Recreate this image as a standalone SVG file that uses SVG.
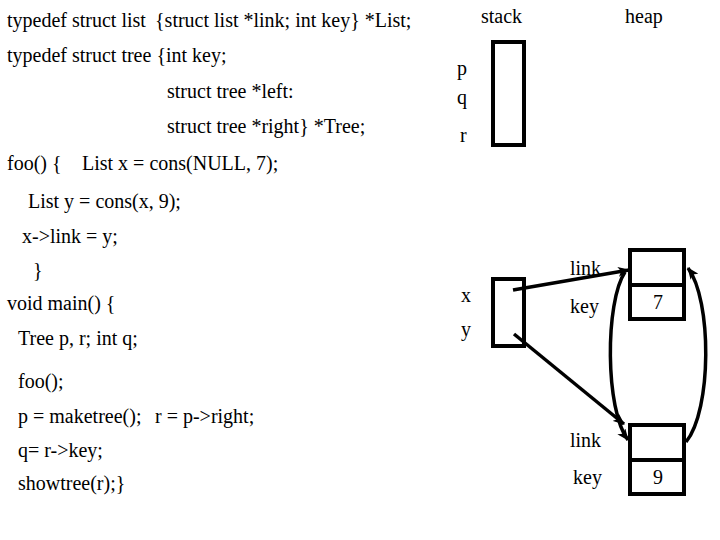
<svg xmlns="http://www.w3.org/2000/svg" width="720" height="540" viewBox="0 0 720 540">
<defs>
<style>
text{font-family:"Liberation Serif","Times New Roman",serif;font-size:20px;fill:#000}
.box{fill:none;stroke:#000;stroke-width:4}
.con{fill:none;stroke:#000;stroke-width:3.5}
</style>
<marker id="ah" viewBox="0 0 12 10" refX="11" refY="5" markerWidth="12" markerHeight="10" markerUnits="userSpaceOnUse" orient="auto">
<path d="M0,0 L12,5 L0,10 L3,5 Z" fill="#000"/>
</marker>
</defs>
<rect width="720" height="540" fill="#fff"/>
<g id="code">
<text x="7" y="27">typedef struct list<tspan x="155">{struct list *link; int key} *List;</tspan></text>
<text x="7" y="62">typedef struct tree {int key;</text>
<text x="167" y="98">struct tree *left:</text>
<text x="167" y="133">struct tree *right} *Tree;</text>
<text x="7" y="170">foo() {<tspan x="82">List x = cons(NULL, 7);</tspan></text>
<text x="28" y="208">List y = cons(x, 9);</text>
<text x="22" y="243">x-&gt;link = y;</text>
<text x="33" y="277">}</text>
<text x="7" y="310">void main() {</text>
<text x="18" y="345">Tree p, r; int q;</text>
<text x="18" y="388">foo();</text>
<text x="18" y="423">p = maketree();<tspan x="155">r = p-&gt;right;</tspan></text>
<text x="18" y="457">q= r-&gt;key;</text>
<text x="18" y="490">showtree(r);}</text>
</g>
<g id="titles">
<text x="481" y="23">stack</text>
<text x="625" y="23">heap</text>
</g>
<g id="stack-pqr">
<rect class="box" x="493" y="42" width="31" height="103"/>
<text x="457" y="75">p</text>
<text x="457" y="104">q</text>
<text x="460" y="142">r</text>
</g>
<g id="stack-xy">
<rect class="box" x="493" y="279" width="31" height="67"/>
<text x="461" y="302">x</text>
<text x="461" y="336">y</text>
</g>
<g id="heap-node-7">
<rect class="box" x="630" y="250" width="54" height="69"/>
<line class="box" x1="630" y1="285" x2="684" y2="285"/>
<text x="570" y="275">link</text>
<text x="570" y="313">key</text>
<text x="653" y="309">7</text>
</g>
<g id="heap-node-9">
<rect class="box" x="630" y="425" width="54" height="69"/>
<line class="box" x1="630" y1="460" x2="684" y2="460"/>
<text x="570" y="447">link</text>
<text x="573" y="484">key</text>
<text x="653" y="484">9</text>
</g>
<g id="connectors">
<line class="con" x1="513" y1="290" x2="629" y2="270" marker-end="url(#ah)"/>
<line class="con" x1="514" y1="334" x2="624" y2="424" marker-end="url(#ah)"/>
<path class="con" d="M625,272 C605,302 605,410 628,440" marker-end="url(#ah)"/>
<path class="con" d="M686,442 C712,410 712,300 688,268" marker-end="url(#ah)"/>
</g>
</svg>
